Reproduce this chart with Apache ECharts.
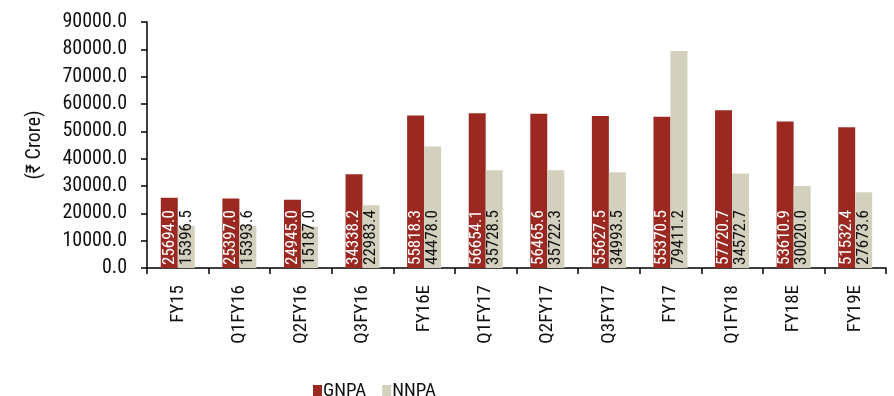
<!DOCTYPE html>
<html>
<head>
<meta charset="utf-8">
<script src="https://cdn.jsdelivr.net/npm/echarts@6/dist/echarts.min.js"></script>
<style>
  html, body { margin: 0; padding: 0; background: #fff; }
  #chart { width: 894px; height: 396px; }
</style>
</head>
<body>
<div id="chart"></div>
<script>
const categories = ["FY15", "Q1FY16", "Q2FY16", "Q3FY16", "FY16E", "Q1FY17", "Q2FY17", "Q3FY17", "FY17", "Q1FY18", "FY18E", "FY19E"];
const gnpa = [25694.0, 25397.0, 24945.0, 34338.2, 55818.3, 56654.1, 56465.6, 55627.5, 55370.5, 57720.7, 53610.9, 51532.4];
const nnpa = [15396.5, 15393.6, 15187.0, 22983.4, 44478.0, 35728.5, 35722.3, 34993.5, 79411.2, 34572.7, 30020.0, 27673.6];

const font = "'Roboto Condensed', 'Liberation Sans Narrow', Roboto, sans-serif";
const chart = echarts.init(document.getElementById("chart"));

const barLabel = (color) => ({
  show: true,
  position: "insideBottom",
  rotate: 90,
  align: "left",
  verticalAlign: "middle",
  distance: 3,
  color: color,
  fontFamily: font,
  fontSize: 17,
  formatter: (p) => p.value.toFixed(1),
});

chart.setOption({
  animation: false,
  grid: { left: 147, right: 8, top: 22, bottom: 128 },
  legend: {
    top: 377,
    left: 308,
    itemWidth: 9,
    itemHeight: 13,
    itemGap: 16,
    icon: "rect",
    textStyle: { fontFamily: font, fontSize: 19, color: "#111", padding: [0, 0, 0, -4] },
    data: ["GNPA", "NNPA"],
  },
  xAxis: {
    type: "category",
    data: categories,
    axisLine: { lineStyle: { color: "#000", width: 1.5 } },
    axisTick: { show: true, length: 6, lineStyle: { color: "#000", width: 1.5 } },
    axisLabel: { rotate: 90, color: "#111", fontFamily: font, fontSize: 19, margin: 17 },
  },
  yAxis: {
    type: "value",
    min: 0,
    max: 90000,
    interval: 10000,
    name: "(₹ Crore)",
    nameLocation: "middle",
    nameRotate: 90,
    nameGap: 102,
    nameTextStyle: { fontFamily: font, fontSize: 20, color: "#111" },
    splitLine: { show: false },
    axisLine: { show: true, lineStyle: { color: "#000", width: 1.5 } },
    axisTick: { show: true, length: 6, lineStyle: { color: "#000", width: 1.5 } },
    axisLabel: {
      color: "#111",
      fontFamily: font,
      fontSize: 20,
      margin: 20,
      formatter: (v) => v.toFixed(1),
    },
  },
  series: [
    {
      name: "GNPA",
      type: "bar",
      data: gnpa,
      barWidth: 17,
      barGap: "0%",
      itemStyle: { color: "#9B2922" },
      label: barLabel("#fff"),
    },
    {
      name: "NNPA",
      type: "bar",
      data: nnpa,
      barWidth: 17,
      itemStyle: { color: "#D3D0BE" },
      label: barLabel("#111"),
    },
  ],
});
</script>
</body>
</html>
